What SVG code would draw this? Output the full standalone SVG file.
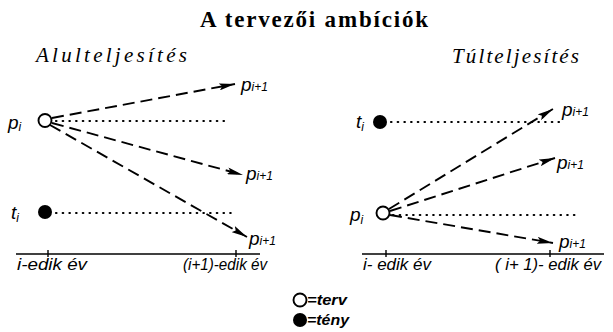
<svg xmlns="http://www.w3.org/2000/svg" width="613" height="332" viewBox="0 0 613 332">
<defs>
<marker id="ah" viewBox="0 0 16 7" refX="16" refY="3.5" markerWidth="16" markerHeight="7" markerUnits="userSpaceOnUse" orient="auto">
<path d="M0,0 L16,3.5 L0,7 L3,3.5 Z" fill="#000"/>
</marker>
</defs>
<style>
.title{font-family:"Liberation Serif",serif;font-weight:bold;font-size:23px}
.head{font-family:"Liberation Serif",serif;font-style:italic;font-size:21px}
.lab{font-family:"Liberation Sans",sans-serif;font-style:italic;font-size:16px}
.leg{font-family:"Liberation Sans",sans-serif;font-style:italic;font-weight:bold;font-size:15px}
.var{font-family:"Liberation Sans",sans-serif;font-style:italic;font-size:19px}
.sub{font-size:12px}
.dash{stroke:#000;stroke-width:1.9;fill:none;stroke-dasharray:12 6;marker-end:url(#ah)}
.dot{stroke:#000;stroke-width:2.2;fill:none;stroke-dasharray:0.5 6.2;stroke-linecap:round}
.axis{stroke:#000;stroke-width:1.4;fill:none}
.open{fill:#fff;stroke:#000;stroke-width:1.9}
.full{fill:#000}
</style>
<rect width="613" height="332" fill="#fff"/>
<text class="title" x="200" y="27" textLength="228" lengthAdjust="spacing">A tervezői ambíciók</text>
<text class="head" x="36" y="62" textLength="151" lengthAdjust="spacing">Alulteljesítés</text>
<text class="head" x="452" y="63" textLength="127" lengthAdjust="spacing">Túlteljesítés</text>

<g id="connectors">
<line class="dot" x1="56" y1="121" x2="227" y2="121"/>
<line class="dot" x1="56" y1="213" x2="235" y2="213"/>
<path class="dash" d="M52,118 L235,84"/>
<path class="dash" d="M52,123 L243,175"/>
<path class="dash" d="M50,125 L247,237"/>
<line class="dot" x1="391" y1="122" x2="560" y2="122"/>
<line class="dot" x1="393" y1="215" x2="577" y2="215"/>
<path class="dash" d="M389,209 L553,109"/>
<path class="dash" d="M390,211 L555,158"/>
<path class="dash" d="M390,215 L553,243"/>
</g>

<g id="left-axis">
<line class="axis" x1="16" y1="254" x2="260" y2="254"/>
<line class="axis" x1="48" y1="250" x2="48" y2="257"/>
<line class="axis" x1="236" y1="250" x2="236" y2="257"/>
<text class="lab" x="17" y="270" textLength="70" lengthAdjust="spacingAndGlyphs">i-edik év</text>
<text class="lab" x="183" y="270" textLength="84" lengthAdjust="spacingAndGlyphs">(i+1)-edik év</text>
</g>
<g id="right-axis">
<line class="axis" x1="362" y1="254" x2="604" y2="254"/>
<line class="axis" x1="386" y1="250" x2="386" y2="257"/>
<line class="axis" x1="550" y1="250" x2="550" y2="257"/>
<text class="lab" x="363" y="270" textLength="68" lengthAdjust="spacingAndGlyphs">i- edik év</text>
<text class="lab" x="495" y="270" textLength="106" lengthAdjust="spacingAndGlyphs">( i+ 1)- edik év</text>
</g>

<g id="left-plan">
<circle class="open" cx="45" cy="120.5" r="6.5"/>
<text class="var" x="8" y="129">p<tspan class="sub" dy="2">i</tspan></text>
</g>
<g id="left-fact">
<circle class="full" cx="45" cy="212" r="7"/>
<text class="var" x="11" y="219">t<tspan class="sub" dy="3">i</tspan></text>
</g>
<g id="left-p1">
<text class="var" x="241" y="91">p<tspan class="sub">i+1</tspan></text>
</g>
<g id="left-p2">
<text class="var" x="246" y="180">p<tspan class="sub">i+1</tspan></text>
</g>
<g id="left-p3">
<text class="var" x="249" y="245">p<tspan class="sub">i+1</tspan></text>
</g>

<g id="right-fact">
<circle class="full" cx="380" cy="122" r="7"/>
<text class="var" x="356" y="128">t<tspan class="sub" dy="3">i</tspan></text>
</g>
<g id="right-plan">
<circle class="open" cx="383" cy="213" r="6.5"/>
<text class="var" x="350" y="221">p<tspan class="sub" dy="3">i</tspan></text>
</g>
<g id="right-p1">
<text class="var" x="562" y="116">p<tspan class="sub">i+1</tspan></text>
</g>
<g id="right-p2">
<text class="var" x="557" y="169">p<tspan class="sub">i+1</tspan></text>
</g>
<g id="right-p3">
<text class="var" x="559" y="248">p<tspan class="sub">i+1</tspan></text>
</g>

<g id="legend">
<circle class="open" cx="300" cy="300" r="6.5"/>
<text class="leg" x="307" y="305" textLength="40" lengthAdjust="spacingAndGlyphs">=terv</text>
<circle class="full" cx="300" cy="320" r="7"/>
<text class="leg" x="307" y="325" textLength="42" lengthAdjust="spacingAndGlyphs">=tény</text>
</g>
</svg>
